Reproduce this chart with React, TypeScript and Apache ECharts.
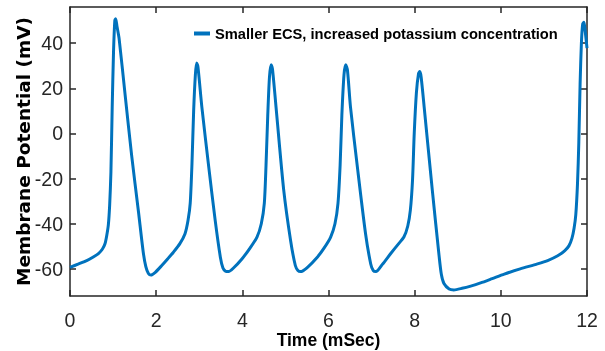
import React, { useEffect, useRef } from "react";
import * as echarts from "echarts";

const seriesName = "Smaller ECS, increased potassium concentration";
const xTitle = "Time (mSec)";
const yTitle = "Membrane Potential (mV)";
const yTickValues = [-60, -40, -20, 0, 20, 40];

const timeMs = [
  0, 0.2, 0.4, 0.55, 0.66, 0.75, 0.81, 0.85, 0.89, 0.92, 0.95, 0.98, 1.01, 1.04, 1.06, 1.09, 1.14, 1.28, 1.43, 1.59,
  1.7, 1.76, 1.82, 1.88, 1.98, 2.13, 2.27, 2.4, 2.55, 2.67, 2.74, 2.79, 2.83, 2.87, 2.91, 2.94, 2.97, 3.06, 3.22, 3.37,
  3.49, 3.55, 3.61, 3.68, 3.8, 3.99, 4.17, 4.34, 4.44, 4.51, 4.55, 4.59, 4.63, 4.67, 4.7, 4.79, 4.96, 5.12, 5.23, 5.29,
  5.35, 5.5, 5.74, 5.9, 6.05, 6.15, 6.22, 6.27, 6.31, 6.36, 6.4, 6.44, 6.51, 6.67, 6.86, 6.98, 7.04, 7.1, 7.25, 7.44,
  7.62, 7.75, 7.84, 7.9, 7.95, 7.99, 8.04, 8.09, 8.12, 8.15, 8.22, 8.41, 8.57, 8.62, 8.68, 8.8, 8.91, 9.1, 9.3, 9.53,
  9.8, 10.08, 10.45, 10.85, 11.1, 11.32, 11.48, 11.58, 11.65, 11.7, 11.74, 11.78, 11.81, 11.84, 11.87, 11.9, 11.93,
  11.96, 12.0,
];

const membraneMv = [
  -59.3, -57.8, -56.2, -54.6, -53.2, -51.3, -49, -45.5, -40.5, -32, -17, 12, 36, 50, 50.8, 47.5, 42, 17, -9.6, -34.8,
  -52.6, -59, -62, -62.7, -61.5, -58.5, -55.5, -52.6, -48.8, -44.4, -38.5, -31, -14, 10, 26, 31.2, 29.5, 11.8, -14.8,
  -38.5, -54.8, -59.6, -61, -61.2, -59.5, -55.6, -51, -45.9, -40, -31, -14, 8, 25, 30.4, 28.5, 10, -25, -47.4, -58.5,
  -60.7, -61.2, -59.5, -54.8, -50.7, -45.9, -40, -31, -14, 8, 26, 30.4, 28, 11.8, -14.8, -44.4, -57.8, -60.8, -61.2,
  -58, -53.3, -49, -45.9, -41, -34, -20.8, 0, 18, 26.5, 27.4, 25, 11.8, -25.2, -54.8, -62.5, -66.5, -68.9, -69.3,
  -68.6, -67.6, -66.2, -64.3, -62.3, -60, -57.8, -56.2, -54.2, -52, -49.8, -46.5, -42, -36, -22, -4, 22, 40, 48.5,
  49.3, 45, 37.8,
];

export default function App() {
  const ref = useRef<HTMLDivElement>(null);
  useEffect(() => {
    if (!ref.current) return;
    const chart = echarts.init(ref.current, null, { renderer: "svg" });
    const axisColor = "#262626";
    const sans = "'Liberation Sans', Arial, Helvetica, sans-serif";
    const lineStyle = { color: axisColor, width: 1.5 };
    const tick = { show: true, inside: true, length: 6, lineStyle };
    chart.setOption({
      animation: false,
      grid: { left: 70, right: 18, top: 7, bottom: 55, containLabel: false, outerBoundsMode: "none" },
      legend: {
        show: true,
        left: 194,
        top: 26,
        padding: 0,
        icon: "rect",
        itemWidth: 16,
        itemHeight: 4,
        data: [seriesName],
        textStyle: { fontFamily: sans, fontWeight: "bold", fontSize: 14.7, color: "#000" },
      },
      xAxis: [
        {
          type: "value",
          min: 0,
          max: 12,
          interval: 2,
          position: "bottom",
          axisLine: { show: true, onZero: false, lineStyle },
          axisTick: tick,
          axisLabel: { show: true, margin: 14, color: axisColor, fontFamily: sans, fontSize: 19.5 },
          splitLine: { show: false },
          name: xTitle,
          nameLocation: "middle",
          nameGap: 35,
          nameMoveOverlap: false,
          nameTextStyle: { fontFamily: sans, fontWeight: "bold", fontSize: 17.5, color: "#000" },
        },
        {
          type: "value",
          min: 0,
          max: 12,
          interval: 2,
          position: "top",
          axisLine: { show: true, onZero: false, lineStyle },
          axisTick: tick,
          axisLabel: { show: false },
          splitLine: { show: false },
        },
      ],
      yAxis: [
        {
          type: "value",
          min: -72,
          max: 56,
          position: "left",
          axisLine: { show: true, onZero: false, lineStyle },
          axisTick: { ...tick, customValues: yTickValues },
          axisLabel: { show: true, margin: 7, color: axisColor, fontFamily: sans, fontSize: 19.5, customValues: yTickValues },
          splitLine: { show: false },
          name: yTitle,
          nameLocation: "middle",
          nameGap: 37,
          nameMoveOverlap: false,
          nameTextStyle: { fontFamily: "'DejaVu Sans', sans-serif", fontWeight: "bold", fontSize: 18.5, color: "#000" },
        },
        {
          type: "value",
          min: -72,
          max: 56,
          position: "right",
          axisLine: { show: true, onZero: false, lineStyle },
          axisTick: { ...tick, customValues: yTickValues },
          axisLabel: { show: false },
          splitLine: { show: false },
        },
      ],
      series: [
        {
          type: "line",
          name: seriesName,
          xAxisIndex: 0,
          yAxisIndex: 0,
          data: timeMs.map((t, i) => [t, membraneMv[i]]),
          symbol: "none",
          showSymbol: false,
          smooth: 0.25,
          lineStyle: { color: "#0072BD", width: 3 },
          itemStyle: { color: "#0072BD" },
          clip: true,
        },
      ],
    });
    return () => chart.dispose();
  }, []);
  return <div ref={ref} style={{ position: "fixed", left: 0, top: 0, width: 605, height: 351 }} />;
}
